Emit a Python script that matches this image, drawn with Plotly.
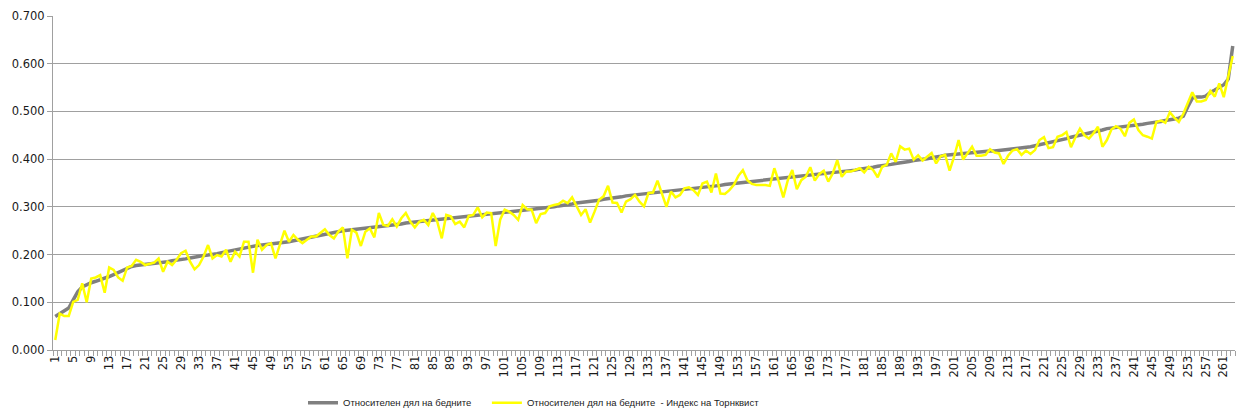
import plotly.graph_objects as go

# category index (1..263)
categories = list(range(1, 264))

# Относителен дял на бедните (grey, sorted)
share_poor = [
    0.070, 0.076, 0.080, 0.088, 0.105, 0.122, 0.132, 0.137, 0.141, 0.144,
    0.147, 0.150, 0.154, 0.158, 0.162, 0.167, 0.171, 0.175, 0.177, 0.178,
    0.179, 0.180, 0.181, 0.183, 0.184, 0.185, 0.187, 0.188, 0.190, 0.191,
    0.193, 0.195, 0.197, 0.198, 0.199, 0.200, 0.202, 0.204, 0.206, 0.208,
    0.210, 0.212, 0.214, 0.216, 0.218, 0.219, 0.220, 0.221, 0.222, 0.224,
    0.225, 0.226, 0.227, 0.229, 0.231, 0.233, 0.235, 0.237, 0.239, 0.241,
    0.243, 0.245, 0.247, 0.249, 0.250, 0.251, 0.252, 0.253, 0.254, 0.255,
    0.256, 0.257, 0.258, 0.259, 0.260, 0.262, 0.263, 0.264, 0.266, 0.267,
    0.268, 0.270, 0.271, 0.272, 0.273, 0.274, 0.275, 0.276, 0.277, 0.278,
    0.279, 0.280, 0.281, 0.282, 0.283, 0.284, 0.284, 0.285, 0.286, 0.287,
    0.288, 0.289, 0.290, 0.291, 0.292, 0.293, 0.294, 0.295, 0.296, 0.297,
    0.299, 0.300, 0.302, 0.303, 0.305, 0.306, 0.308, 0.309, 0.310, 0.312,
    0.313, 0.314, 0.316, 0.317, 0.319, 0.320, 0.321, 0.323, 0.324, 0.326,
    0.327, 0.328, 0.329, 0.330, 0.331, 0.332, 0.333, 0.334, 0.335, 0.336,
    0.337, 0.338, 0.339, 0.340, 0.341, 0.342, 0.343, 0.344, 0.345, 0.347,
    0.348, 0.349, 0.350, 0.351, 0.353, 0.354, 0.355, 0.356, 0.357, 0.358,
    0.359, 0.360, 0.361, 0.362, 0.363, 0.364, 0.365, 0.366, 0.367, 0.368,
    0.369, 0.370, 0.371, 0.372, 0.373, 0.374, 0.374, 0.376, 0.377, 0.379,
    0.380, 0.382, 0.383, 0.385, 0.386, 0.388, 0.389, 0.391, 0.392, 0.394,
    0.395, 0.397, 0.398, 0.400, 0.401, 0.403, 0.404, 0.406, 0.408, 0.409,
    0.410, 0.411, 0.412, 0.412, 0.413, 0.414, 0.415, 0.416, 0.417, 0.417,
    0.418, 0.419, 0.420, 0.421, 0.423, 0.424, 0.425, 0.426, 0.428, 0.430,
    0.432, 0.434, 0.437, 0.439, 0.441, 0.443, 0.446, 0.448, 0.450, 0.452,
    0.455, 0.457, 0.459, 0.461, 0.464, 0.465, 0.466, 0.467, 0.468, 0.469,
    0.470, 0.472, 0.473, 0.475, 0.476, 0.478, 0.479, 0.481, 0.482, 0.484,
    0.486, 0.490, 0.510, 0.528, 0.530, 0.530, 0.532, 0.540, 0.545, 0.550,
    0.556, 0.568, 0.637,
]

# Относителен дял на бедните - Индекс на Торнквист (yellow)
tornqvist = [
    0.021, 0.076, 0.071, 0.071, 0.101, 0.105, 0.140, 0.100, 0.150, 0.152,
    0.157, 0.120, 0.173, 0.168, 0.152, 0.145, 0.173, 0.176, 0.189, 0.185,
    0.178, 0.180, 0.183, 0.192, 0.164, 0.185, 0.178, 0.189, 0.203, 0.208,
    0.185, 0.169, 0.178, 0.196, 0.220, 0.192, 0.199, 0.196, 0.210, 0.185,
    0.206, 0.196, 0.227, 0.227, 0.162, 0.231, 0.210, 0.220, 0.224, 0.192,
    0.223, 0.250, 0.227, 0.241, 0.231, 0.224, 0.231, 0.238, 0.238, 0.245,
    0.253, 0.241, 0.234, 0.248, 0.257, 0.192, 0.252, 0.246, 0.218, 0.248,
    0.255, 0.236, 0.287, 0.262, 0.260, 0.274, 0.259, 0.276, 0.287, 0.269,
    0.257, 0.269, 0.273, 0.262, 0.287, 0.269, 0.234, 0.283, 0.280, 0.264,
    0.269, 0.257, 0.281, 0.283, 0.299, 0.278, 0.288, 0.287, 0.218, 0.273,
    0.294, 0.290, 0.283, 0.273, 0.304, 0.295, 0.294, 0.266, 0.285, 0.287,
    0.301, 0.304, 0.306, 0.313, 0.308, 0.320, 0.302, 0.283, 0.295, 0.267,
    0.290, 0.315, 0.322, 0.344, 0.309, 0.308, 0.288, 0.311, 0.316, 0.325,
    0.311, 0.301, 0.329, 0.330, 0.355, 0.328, 0.300, 0.332, 0.320, 0.325,
    0.339, 0.341, 0.335, 0.325, 0.349, 0.353, 0.330, 0.370, 0.328, 0.327,
    0.335, 0.346, 0.365, 0.377, 0.356, 0.348, 0.346, 0.346, 0.346, 0.344,
    0.381, 0.353, 0.320, 0.356, 0.377, 0.337, 0.356, 0.363, 0.383, 0.355,
    0.369, 0.376, 0.353, 0.370, 0.398, 0.363, 0.374, 0.374, 0.377, 0.381,
    0.372, 0.384, 0.377, 0.362, 0.384, 0.388, 0.412, 0.394, 0.427, 0.420,
    0.422, 0.399, 0.408, 0.397, 0.405, 0.413, 0.391, 0.406, 0.409, 0.376,
    0.405, 0.440, 0.399, 0.412, 0.426, 0.407, 0.407, 0.409, 0.421, 0.414,
    0.412, 0.390, 0.407, 0.418, 0.421, 0.409, 0.418, 0.411, 0.419, 0.440,
    0.446, 0.423, 0.425, 0.447, 0.450, 0.457, 0.425, 0.446, 0.464, 0.450,
    0.443, 0.454, 0.468, 0.426, 0.440, 0.462, 0.469, 0.464, 0.448, 0.476,
    0.483, 0.461, 0.450, 0.447, 0.443, 0.478, 0.481, 0.476, 0.498, 0.487,
    0.478, 0.495, 0.519, 0.540, 0.521, 0.521, 0.524, 0.543, 0.531, 0.559,
    0.530, 0.575, 0.616,
]

tick_values = categories[::4]
tick_labels = [str(c) for c in tick_values]
y_ticks = [0.0, 0.1, 0.2, 0.3, 0.4, 0.5, 0.6, 0.7]
y_labels = ["0.000", "0.100", "0.200", "0.300", "0.400", "0.500", "0.600", "0.700"]

name_grey = "Относителен дял на бедните" + "\u00a0" * 4
name_yellow = "Относителен дял на бедните  - Индекс на Торнквист"

fig = go.Figure()
fig.add_trace(go.Scatter(x=categories, y=share_poor, mode="lines", name=name_grey,
                         line=dict(color="#808080", width=3.5)))
fig.add_trace(go.Scatter(x=categories, y=tornqvist, mode="lines", name=name_yellow,
                         line=dict(color="#FFFF00", width=2.5)))

axis_color = "#a0a0a0"
tick_font = dict(family="DejaVu Sans", size=11.5, color="#1a1a1a")

fig.update_layout(
    width=1237, height=415,
    margin=dict(l=53, r=2, t=16, b=65, autoexpand=False),
    paper_bgcolor="white", plot_bgcolor="white",
    showlegend=True,
    legend=dict(orientation="h", x=(303 - 53) / 1182, xanchor="left",
                y=-0.158, yanchor="middle",
                font=dict(family="Liberation Sans", size=9.5, color="#1a1a1a"),
                itemwidth=30, bgcolor="rgba(0,0,0,0)"),
    xaxis=dict(range=[0.5, 263.5], tickmode="array", tickvals=tick_values,
               ticktext=tick_labels, tickangle=-90, tickfont=tick_font,
               showgrid=False, zeroline=False, showline=True, linecolor=axis_color,
               linewidth=1, ticks="", automargin=False,
               minor=dict(ticks="outside", tickmode="linear", tick0=0.5, dtick=1,
                          ticklen=5, tickcolor=axis_color, showgrid=False)),
    yaxis=dict(range=[0, 0.7], tickmode="array", tickvals=y_ticks, ticktext=y_labels,
               tickfont=tick_font, showgrid=True, gridcolor=axis_color, gridwidth=1,
               zeroline=False, showline=True, linecolor=axis_color, linewidth=1,
               ticks="outside", ticklen=5, tickcolor=axis_color, automargin=False),
)

fig.write_html("out.html", config={"displayModeBar": False},
               post_script="document.body.style.margin='0';")
